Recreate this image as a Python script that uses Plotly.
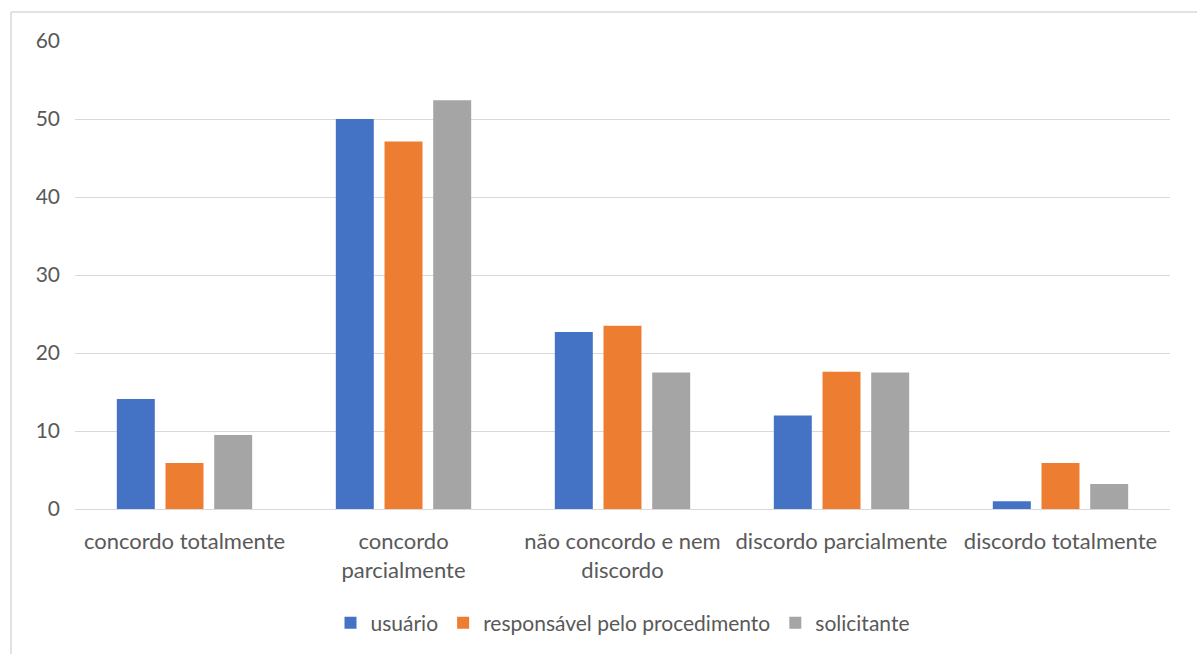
import plotly.graph_objects as go

categories = ["concordo totalmente", "concordo<br>parcialmente", "não concordo e nem<br>discordo",
              "discordo parcialmente", "discordo totalmente"]
usuario = [14.1, 50.0, 22.7, 12.0, 1.0]
responsavel = [5.9, 47.1, 23.5, 17.6, 5.9]
solicitante = [9.5, 52.4, 17.5, 17.5, 3.2]
y_ticks = [0, 10, 20, 30, 40, 50, 60]

W, H = 1197, 654
L, R, T, B = 75, 27, 41, 144
pw, ph = W - L - R, H - T - B

font_family = "Lato, 'Open Sans', sans-serif"
text_color = "#595959"
FS = 22

fig = go.Figure()
fig.add_bar(name="usuário", x=categories, y=usuario, marker=dict(color="#4472C4", line=dict(width=0)))
fig.add_bar(name="responsável pelo procedimento", x=categories, y=responsavel,
            marker=dict(color="#ED7D31", line=dict(width=0)))
fig.add_bar(name="solicitante", x=categories, y=solicitante, marker=dict(color="#A5A5A5", line=dict(width=0)))

def px_x(p):
    return (p - L) / pw

def px_y(p):
    return (H - B - p) / ph

fig.update_layout(
    width=W, height=H,
    margin=dict(l=L, r=R, t=T, b=B),
    paper_bgcolor="white", plot_bgcolor="white",
    barmode="group", bargap=0.333, bargroupgap=0.22,
    font=dict(family=font_family, size=FS, color=text_color),
    xaxis=dict(showgrid=False, showline=False, ticks="", ticklabelstandoff=17,
               tickfont=dict(size=FS, color=text_color)),
    yaxis=dict(range=[0, 60], tickvals=y_ticks, showgrid=True, gridcolor="#D9D9D9", gridwidth=1,
               zeroline=True, zerolinecolor="#D9D9D9", zerolinewidth=1, showline=False, ticks="",
               ticklabelstandoff=14, tickfont=dict(size=FS - 1, color=text_color)),
    legend=dict(orientation="h", x=0.5, xanchor="center", y=px_y(623), yanchor="middle",
                font=dict(size=FS - 1, color=text_color), itemwidth=30, traceorder="normal"),
    shapes=[
        dict(type="line", xref="paper", yref="paper", x0=px_x(11), x1=px_x(W + 5), y0=px_y(12), y1=px_y(12),
             line=dict(color="#D9D9D9", width=1.5)),
        dict(type="line", xref="paper", yref="paper", x0=px_x(11), x1=px_x(11), y0=px_y(12), y1=px_y(H + 5),
             line=dict(color="#D9D9D9", width=1.5)),
    ],
)

fig.write_html("out.html")
